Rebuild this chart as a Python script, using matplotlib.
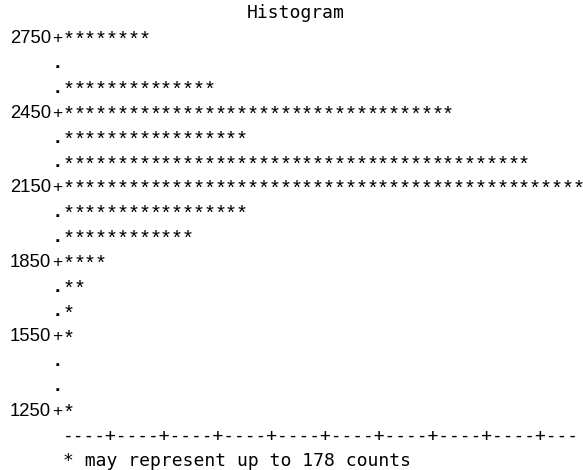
import matplotlib.pyplot as plt

# bin midpoints (rows of the text histogram) and number of stars in each row
bins = [2750, 2650, 2550, 2450, 2350, 2250, 2150, 2050, 1950,
        1850, 1750, 1650, 1550, 1450, 1350, 1250]
stars = [8, 0, 14, 36, 17, 43, 48, 17, 12, 4, 2, 1, 1, 0, 0, 1]
label_bins = [2750, 2450, 2150, 1850, 1550, 1250]
counts_per_star = 178
n_cols = 48

title = "Histogram"
footnote = f"* may represent up to {counts_per_star} counts"

# character grid (pixels)
W, H = 583, 470
col0 = 57.45      # x of column 0 (the '+' / '.' column)
pitch = 10.85     # width of one character cell
base0 = 18.3      # baseline of the title line
line = 24.85      # line height
step = 100        # value per text line
star_drop = 2.0 / line * step   # stars sit a little lower than the baseline

mono = "DejaVu Sans Mono"
sans = ["Liberation Sans", "Arial", "DejaVu Sans"]

fig = plt.figure(figsize=(W / 100, H / 100), dpi=100)
ax = fig.add_axes([0, 0, 1, 1])
ax.axis("off")
ax.set_xlim(-col0 / pitch, (W - col0) / pitch)
top_val = bins[0] + step
ax.set_ylim(top_val - step * (H - base0) / line, top_val + step * base0 / line)

ax.text(22, top_val, title, family=mono, fontsize=13, ha="center", va="baseline")

for b, n in zip(bins, stars):
    if b in label_bins:
        ax.text(0, b, "+", family=sans, fontsize=12.5, ha="center", va="baseline")
        ax.text(-0.6, b, str(b), family=sans, fontsize=13.3, ha="right", va="baseline")
    else:
        ax.text(-0.05, b, ".", family=sans, fontsize=14, ha="center", va="baseline",
                fontweight="bold")
    for i in range(1, n + 1):
        ax.text(i, b - star_drop, "*", family=sans, fontsize=14.5, ha="center",
                va="baseline")

axis_line = ("----+" * (n_cols // 5) + "-" * (n_cols % 5))
ax.text(0.5, bins[-1] - step, axis_line, family=mono, fontsize=12.9, ha="left", va="baseline")
ax.text(0.5, bins[-1] - 2 * step, footnote, family=mono, fontsize=13, ha="left", va="baseline")

fig.savefig("out.png", dpi=100)
